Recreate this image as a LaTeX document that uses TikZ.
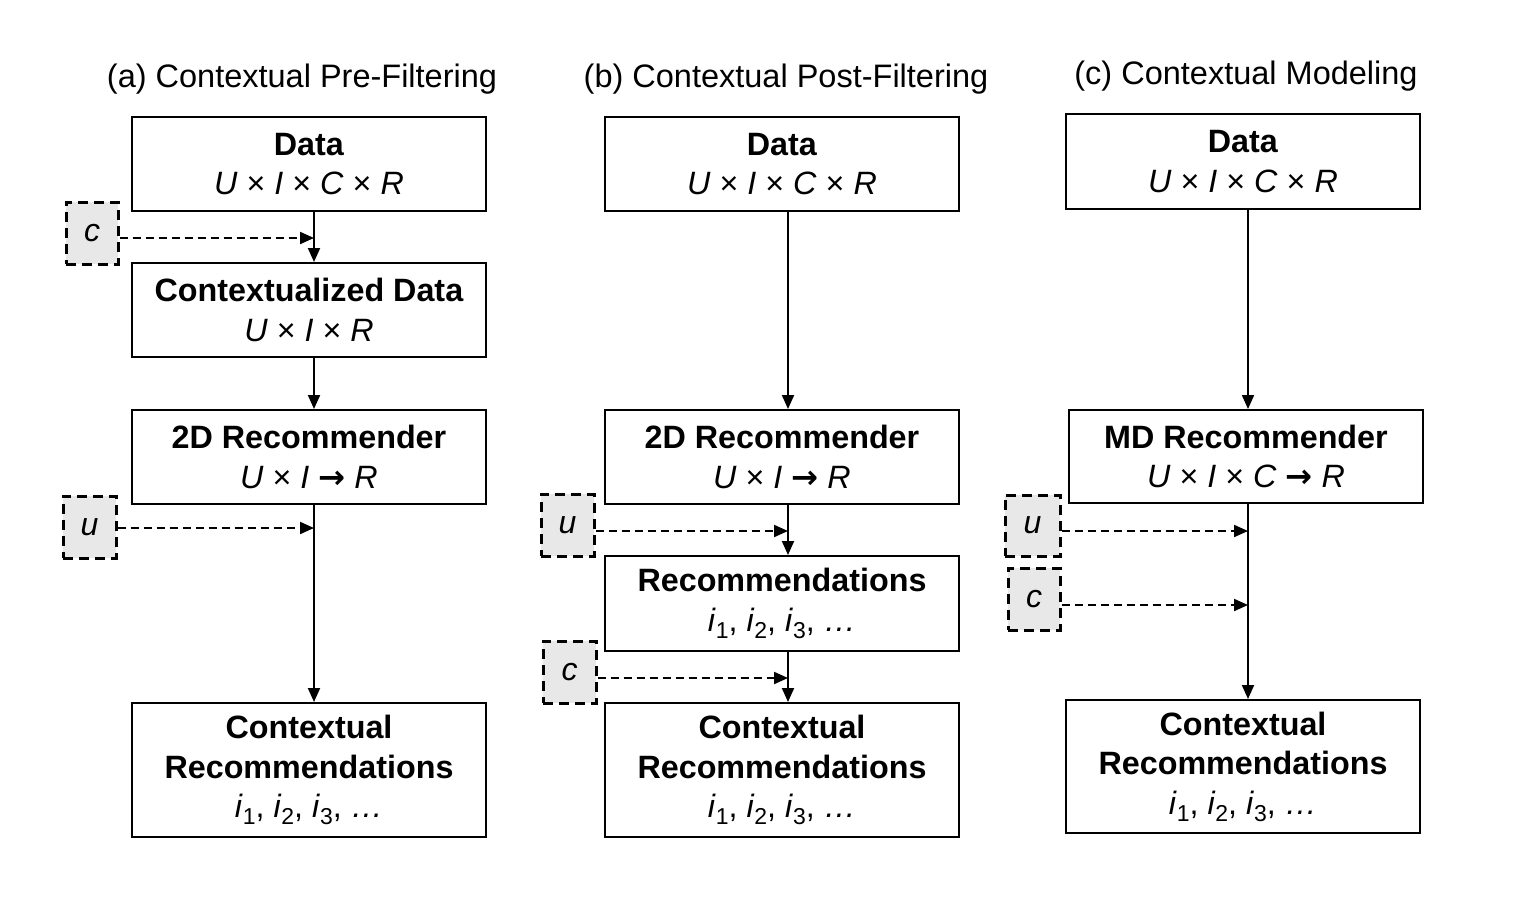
\documentclass[tikz,border=0pt]{standalone}
\usepackage{fontspec}
\setmainfont{Liberation Sans}
\newfontfamily\arrowfont{DejaVu Sans}
\usetikzlibrary{arrows.meta}
\newcommand{\mysub}[1]{\raisebox{-0.22em}{\fontsize{23}{23}\selectfont #1}}
\newcommand{\myarr}{{\arrowfont\bfseries →}}
\newcommand{\items}{\textit{i}\mysub{1}, \textit{i}\mysub{2}, \textit{i}\mysub{3}, \textit{…}}
\tikzset{
  mainbox/.style={draw=black, line width=2pt, fill=white, minimum width=354pt, inner sep=0pt, align=center, font=\fontsize{32.3}{39.5}\selectfont},
  ctxbox/.style={draw=black, line width=3pt, dash pattern=on 10pt off 6pt, fill=black!9, inner sep=0pt, font=\fontsize{32}{38}\selectfont\itshape},
  title/.style={font=\fontsize{32.5}{38}\selectfont, inner sep=0pt},
  arr/.style={draw=black, line width=2pt, -{Triangle[length=14pt,width=12pt]}},
  darr/.style={draw=black, line width=2pt, dash pattern=on 8pt off 5pt, -{Triangle[length=14pt,width=12pt]}}
}
\begin{document}
\begin{tikzpicture}[x=1pt,y=-1pt]
\useasboundingbox (0,0) rectangle (1520,906);
\fill[white] (0,0) rectangle (1520,906);

% titles
\node[title] (ta) at (302,79) {(a) Contextual Pre-Filtering};
\node[title] (tb) at (786,79) {(b) Contextual Post-Filtering};
\node[title] (tc) at (1246,76) {(c) Contextual Modeling};

% arrow columns
\coordinate (xa) at (314,0);
\coordinate (xb) at (788,0);
\coordinate (xc) at (1248,0);

% column a
\node[mainbox, minimum height=94pt] (a1) at (309,164) {\textbf{Data}\\\textit{U} × \textit{I} × \textit{C} × \textit{R}};
\node[mainbox, minimum height=94pt] (a2) at (309,310) {\textbf{Contextualized Data}\\\textit{U} × \textit{I} × \textit{R}};
\node[mainbox, minimum height=94pt] (a3) at (309,457) {\textbf{2D Recommender}\\\textit{U} × \textit{I} \myarr\ \textit{R}};
\node[mainbox, minimum height=134pt] (a4) at (309,770) {\textbf{Contextual}\\\textbf{Recommendations}\\\items};
\node[ctxbox, minimum width=52pt, minimum height=62pt] (ca) at (92,233) {c};
\node[ctxbox, minimum width=53pt, minimum height=62pt] (ua) at (89.5,527) {u};

\draw[arr] (a1.south -| xa) -- (a2.north -| xa);
\draw[arr] (a2.south -| xa) -- (a3.north -| xa);
\draw[arr] (a3.south -| xa) -- (a4.north -| xa);
\draw[darr] ([yshift=-5pt]ca.east) -- ([yshift=-5pt]ca.east -| xa);
\draw[darr] ([yshift=-1pt]ua.east) -- ([yshift=-1pt]ua.east -| xa);

% column b
\node[mainbox, minimum height=94pt] (b1) at (782,164) {\textbf{Data}\\\textit{U} × \textit{I} × \textit{C} × \textit{R}};
\node[mainbox, minimum height=94pt] (b2) at (782,457) {\textbf{2D Recommender}\\\textit{U} × \textit{I} \myarr\ \textit{R}};
\node[mainbox, minimum height=95pt] (b3) at (782,603.5) {\textbf{Recommendations}\\\items};
\node[mainbox, minimum height=134pt] (b4) at (782,770) {\textbf{Contextual}\\\textbf{Recommendations}\\\items};
\node[ctxbox, minimum width=53pt, minimum height=62pt] (ub) at (567.5,525) {u};
\node[ctxbox, minimum width=53pt, minimum height=62pt] (cb) at (569.5,672) {c};

\draw[arr] (b1.south -| xb) -- (b2.north -| xb);
\draw[arr] (b2.south -| xb) -- (b3.north -| xb);
\draw[arr] (b3.south -| xb) -- (b4.north -| xb);
\draw[darr] ([yshift=-6pt]ub.east) -- ([yshift=-6pt]ub.east -| xb);
\draw[darr] ([yshift=-6pt]cb.east) -- ([yshift=-6pt]cb.east -| xb);

% column c
\node[mainbox, minimum height=95pt] (c1) at (1243,161.5) {\textbf{Data}\\\textit{U} × \textit{I} × \textit{C} × \textit{R}};
\node[mainbox, minimum height=93pt] (c2) at (1246,456.5) {\textbf{MD Recommender}\\\textit{U} × \textit{I} × \textit{C} \myarr\ \textit{R}};
\node[mainbox, minimum height=133pt] (c3) at (1243,766.5) {\textbf{Contextual}\\\textbf{Recommendations}\\\items};
\node[ctxbox, minimum width=55pt, minimum height=61pt] (uc) at (1032.5,525.5) {u};
\node[ctxbox, minimum width=52pt, minimum height=62pt] (cc) at (1034,599) {c};

\draw[arr] (c1.south -| xc) -- (c2.north -| xc);
\draw[arr] (c2.south -| xc) -- (c3.north -| xc);
\draw[darr] ([yshift=-5.5pt]uc.east) -- ([yshift=-5.5pt]uc.east -| xc);
\draw[darr] ([yshift=-6pt]cc.east) -- ([yshift=-6pt]cc.east -| xc);
\end{tikzpicture}
\end{document}
